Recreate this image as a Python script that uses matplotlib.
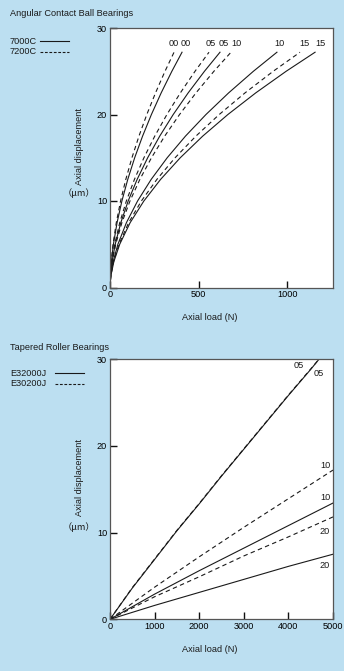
import matplotlib
matplotlib.use("Agg")
import matplotlib.pyplot as plt

plt.rcParams['font.family'] = ['Liberation Sans', 'DejaVu Sans']

# ---------------- Data: Angular Contact Ball Bearings ----------------
ball_disp = [0, 0.5, 1.5, 3, 5, 7.5, 10, 12.5, 15, 17.5, 20, 22.5, 25, 27.2]
ball_series = ['00', '00', '05', '05', '10', '10', '15', '15']
ball_styles = ['7200C', '7000C', '7200C', '7000C', '7200C', '7000C', '7200C', '7000C']
ball_load_7200C_00 = [0, 0.27, 1.96, 6.8, 17.1, 35.5, 59.6, 89.1, 123.7, 163.2, 207.5, 256.6, 310.1, 361]
ball_load_7000C_00 = [0, 0.31, 2.2, 7.7, 19.3, 39.9, 67.0, 100.2, 139.1, 183.6, 233.4, 288.5, 348.8, 406]
ball_load_7200C_05 = [0, 0.42, 3.0, 10.6, 26.5, 54.9, 92.1, 137.7, 191.2, 252.3, 320.8, 396.6, 479.4, 558]
ball_load_7000C_05 = [0, 0.47, 3.4, 11.7, 29.4, 61.0, 102.4, 153.0, 212.4, 280.3, 356.4, 440.6, 532.6, 620]
ball_load_7200C_10 = [0, 0.51, 3.7, 12.9, 32.3, 67.1, 112.6, 168.3, 233.7, 308.3, 392.1, 484.7, 585.9, 682]
ball_load_7000C_10 = [0, 0.71, 5.1, 17.8, 44.6, 92.6, 155.4, 232.2, 322.4, 425.4, 541.0, 668.8, 808.4, 941]
ball_load_7200C_15 = [0, 0.81, 5.8, 20.3, 50.8, 105.3, 176.8, 264.3, 366.9, 484.2, 615.7, 761.2, 920.1, 1071]
ball_load_7000C_15 = [0, 0.87, 6.3, 21.9, 54.8, 113.7, 190.9, 285.3, 396.1, 522.6, 664.6, 821.6, 993.1, 1156]
ball_loads = [ball_load_7200C_00, ball_load_7000C_00, ball_load_7200C_05, ball_load_7000C_05,
              ball_load_7200C_10, ball_load_7000C_10, ball_load_7200C_15, ball_load_7000C_15]
ball_xticks = [0, 500, 1000]
ball_yticks = [0, 10, 20, 30]

# ---------------- Data: Tapered Roller Bearings ----------------
roller_load_05 = [0, 500, 1000, 1500, 2000, 2500, 3000, 3500, 4000, 4500, 4690]
roller_E32000J_05 = [0, 3.6, 6.9, 10.2, 13.3, 16.5, 19.6, 22.7, 25.8, 28.8, 30.0]
roller_E30200J_05 = [0, 3.65, 6.95, 10.25, 13.35, 16.55, 19.65, 22.75, 25.85, 28.85, 30.0]
roller_load = [0, 1000, 2000, 3000, 4000, 5000]
roller_E30200J_10 = [0, 3.7, 7.2, 10.6, 13.9, 17.2]
roller_E32000J_10 = [0, 2.9, 5.6, 8.2, 10.8, 13.4]
roller_E30200J_20 = [0, 2.6, 4.9, 7.3, 9.5, 11.8]
roller_E32000J_20 = [0, 1.6, 3.1, 4.6, 6.1, 7.5]
roller_xticks = [0, 1000, 2000, 3000, 4000, 5000]
roller_yticks = [0, 10, 20, 30]

BG = '#bcdff1'
LC = '#1a1a1a'
FS = 6.6
W, H = 344, 671

fig = plt.figure(figsize=(W / 100, H / 100), dpi=100, facecolor=BG)


def fx(px):
    return px / W


def fy(py):
    return 1 - py / H


def style_axes(ax):
    ax.set_facecolor('white')
    for s in ax.spines.values():
        s.set_color('#555555')
        s.set_linewidth(0.9)
    ax.tick_params(direction='in', length=5, width=1.0, color='#111111',
                   labelsize=FS, pad=2, top=False, right=False)


solid = '-'
dashed = (0, (4, 3))

# ---- top chart ----
ax1 = fig.add_axes([fx(110), fy(287.5), fx(333) - fx(110), fy(28) - fy(287.5)])
style_axes(ax1)
for loads, st in zip(ball_loads, ball_styles):
    ax1.plot(loads, ball_disp, color=LC, lw=0.8,
             linestyle=solid if st == '7000C' else dashed)
ax1.set_xlim(0, 1257)
ax1.set_ylim(0, 30)
ax1.set_xticks(ball_xticks)
ax1.set_yticks(ball_yticks)

label_x_px = [174, 186, 211, 224, 236, 279, 304, 320]
for name, xp in zip(ball_series, label_x_px):
    fig.text(fx(xp), fy(43), name, fontsize=FS, ha='center', va='center', color=LC)

fig.text(fx(10), fy(13), 'Angular Contact Ball Bearings', fontsize=FS, ha='left', va='center', color=LC)
fig.text(fx(10), fy(41), '7000C', fontsize=FS, ha='left', va='center', color=LC)
fig.text(fx(10), fy(52), '7200C', fontsize=FS, ha='left', va='center', color=LC)
fig.add_artist(plt.Line2D([fx(40), fx(69)], [fy(41), fy(41)], color=LC, lw=0.8))
fig.add_artist(plt.Line2D([fx(40), fx(69)], [fy(52), fy(52)], color=LC, lw=0.8, linestyle=(0, (2.5, 1.5))))

fig.text(fx(80), fy(185), 'Axial displacement', fontsize=FS, rotation=90, ha='center', va='bottom', color=LC)
fig.text(fx(79), fy(193), '（μm）', fontsize=FS, ha='center', va='center', color=LC,
         family=['Noto Sans CJK JP', 'DejaVu Sans'])
fig.text(fx(210), fy(318), 'Axial load (N)', fontsize=FS, ha='center', va='center', color=LC)

# ---- bottom chart ----
ax2 = fig.add_axes([fx(110), fy(619.3), fx(333) - fx(110), fy(359) - fy(619.3)])
style_axes(ax2)
ax2.plot(roller_load_05, roller_E32000J_05, color=LC, lw=0.8, linestyle=solid)
ax2.plot(roller_load_05, roller_E30200J_05, color=LC, lw=0.8, linestyle=dashed)
ax2.plot(roller_load, roller_E30200J_10, color=LC, lw=0.8, linestyle=dashed)
ax2.plot(roller_load, roller_E32000J_10, color=LC, lw=0.8, linestyle=solid)
ax2.plot(roller_load, roller_E30200J_20, color=LC, lw=0.8, linestyle=dashed)
ax2.plot(roller_load, roller_E32000J_20, color=LC, lw=0.8, linestyle=solid)
ax2.set_xlim(0, 5000)
ax2.set_ylim(0, 30)
ax2.set_xticks(roller_xticks)
ax2.set_yticks(roller_yticks)

roller_labels = [('05', 298.5, 366), ('05', 318.5, 373), ('10', 325, 465),
                 ('10', 325, 497), ('20', 325, 531), ('20', 325, 566)]
for name, xp, yp in roller_labels:
    fig.text(fx(xp), fy(yp), name, fontsize=FS, ha='center', va='center', color=LC)

fig.text(fx(10), fy(348), 'Tapered Roller Bearings', fontsize=FS, ha='left', va='center', color=LC)
fig.text(fx(10), fy(373), 'E32000J', fontsize=FS, ha='left', va='center', color=LC)
fig.text(fx(10), fy(384), 'E30200J', fontsize=FS, ha='left', va='center', color=LC)
fig.add_artist(plt.Line2D([fx(55), fx(84)], [fy(373), fy(373)], color=LC, lw=0.8))
fig.add_artist(plt.Line2D([fx(55), fx(84)], [fy(384), fy(384)], color=LC, lw=0.8, linestyle=(0, (2.5, 1.5))))

fig.text(fx(80), fy(516), 'Axial displacement', fontsize=FS, rotation=90, ha='center', va='bottom', color=LC)
fig.text(fx(79), fy(527), '（μm）', fontsize=FS, ha='center', va='center', color=LC,
         family=['Noto Sans CJK JP', 'DejaVu Sans'])
fig.text(fx(210), fy(650), 'Axial load (N)', fontsize=FS, ha='center', va='center', color=LC)

fig.savefig('out.png', dpi=100, facecolor=BG)
